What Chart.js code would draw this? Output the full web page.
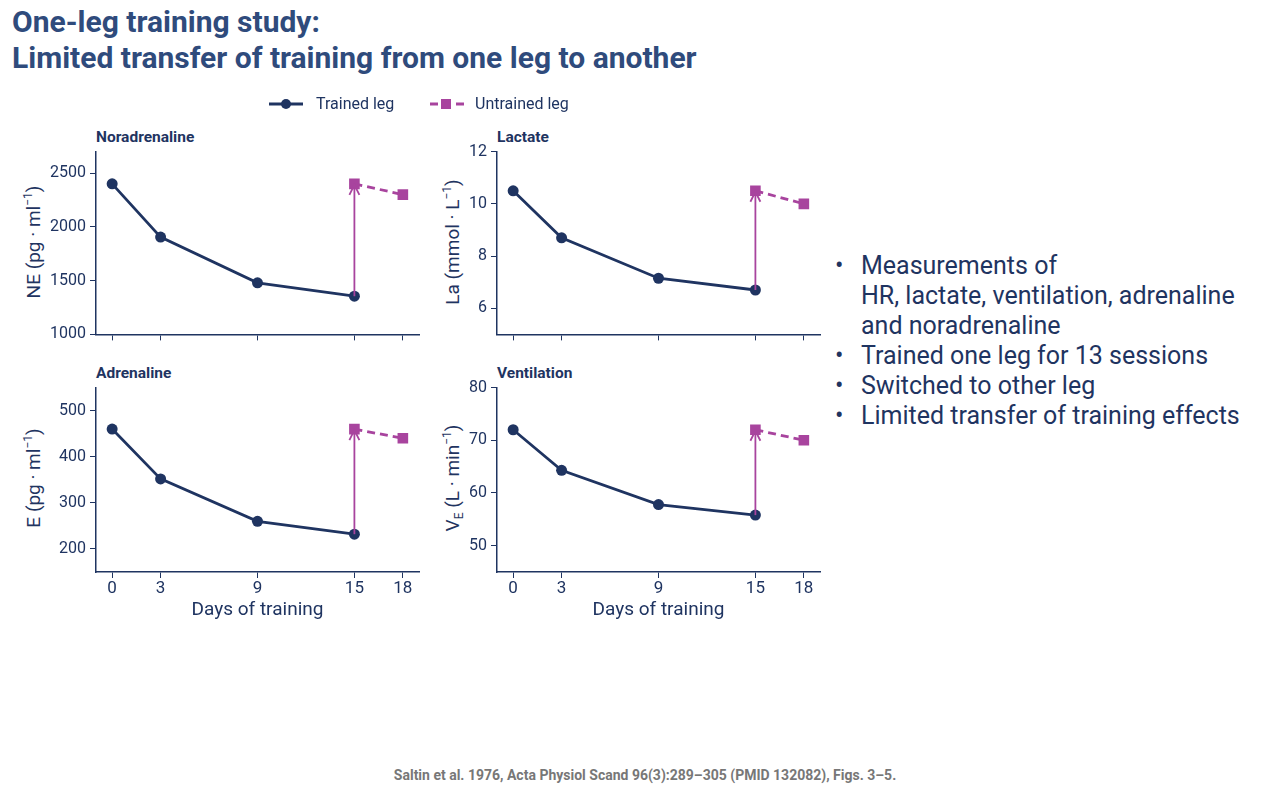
<!DOCTYPE html>
<html><head><meta charset="utf-8">
<script src="https://cdn.jsdelivr.net/npm/chart.js@4.4.1/dist/chart.umd.min.js"></script>
<style>
html,body{margin:0;padding:0;background:#fff;width:1280px;height:800px;overflow:hidden;font-family:Roboto,"Noto Sans",sans-serif;color:#1f3461;}
#title{position:absolute;left:12px;top:4px;font-size:30px;font-weight:700;line-height:36px;color:#2f4b7c;}
.ptitle{position:absolute;font-size:15.5px;font-weight:700;color:#1f3461;}
.ytitle{position:absolute;font-size:19px;white-space:nowrap;transform:translate(-50%,-50%) rotate(-90deg);color:#1f3461;}
.ytitle sup{font-size:12px;vertical-align:8px;line-height:0}
.ytitle sub{font-size:12px;vertical-align:-4px;line-height:0}
canvas{position:absolute;}
#bul{position:absolute;left:835px;top:251px;font-size:25px;line-height:30px;color:#1f3461;}
#bul div{position:relative;padding-left:26px;}
#bul div:before{content:"•";position:absolute;left:0;}
#foot{position:absolute;left:0;width:1290px;top:767px;text-align:center;font-size:14px;font-weight:700;color:#777;}
</style></head><body>
<div id="title">One-leg training study:<br>Limited transfer of training from one leg to another</div>
<canvas id="leg" width="340" height="22" style="left:262px;top:93px"></canvas>
<div class="ptitle" style="left:96px;top:128px">Noradrenaline</div>
<div class="ptitle" style="left:497px;top:128px">Lactate</div>
<div class="ptitle" style="left:96px;top:364px">Adrenaline</div>
<div class="ptitle" style="left:497px;top:364px">Ventilation</div>
<div class="ytitle" style="left:33px;top:242px">NE (pg · ml<sup>−1</sup>)</div>
<div class="ytitle" style="left:452px;top:242px">La (mmol · L<sup>−1</sup>)</div>
<div class="ytitle" style="left:33px;top:478px">E (pg · ml<sup>−1</sup>)</div>
<div class="ytitle" style="left:452px;top:478px">V<sub>E</sub> (L · min<sup>−1</sup>)</div>
<canvas id="c1" width="395" height="210" style="left:36px;top:138px"></canvas>
<canvas id="c2" width="395" height="210" style="left:437px;top:138px"></canvas>
<canvas id="c3" width="395" height="248" style="left:36px;top:374px"></canvas>
<canvas id="c4" width="395" height="248" style="left:437px;top:374px"></canvas>
<div id="bul">
<div>Measurements of<br>HR, lactate, ventilation, adrenaline<br>and noradrenaline</div>
<div>Trained one leg for 13 sessions</div>
<div>Switched to other leg</div>
<div>Limited transfer of training effects</div>
</div>
<div id="foot">Saltin et al. 1976, Acta Physiol Scand 96(3):289–305 (PMID 132082), Figs. 3–5.</div>
<script>
// ---- data ----
const trainedDays = [0, 3, 9, 15];
const untrainedDays = [15, 18];
const xTicks = [0, 3, 9, 15, 18];
const neTrained = [2400, 1905, 1480, 1355];
const neUntrained = [2400, 2300];
const neTicks = [1000, 1500, 2000, 2500];
const laTrained = [10.5, 8.7, 7.15, 6.7];
const laUntrained = [10.5, 10.0];
const laTicks = [6, 8, 10, 12];
const eTrained = [460, 352, 260, 232];
const eUntrained = [460, 440];
const eTicks = [200, 300, 400, 500];
const veTrained = [72, 64.3, 57.8, 55.8];
const veUntrained = [72, 70];
const veTicks = [50, 60, 70, 80];
const seriesNames = ['Trained leg', 'Untrained leg'];
const xTitle = 'Days of training';

const NAVY = '#1f3461', PURPLE = '#a8449e';
const FONT = 'Roboto, "Noto Sans", sans-serif';

// arrow plugin: from trained day-15 point to untrained day-15 point
const arrowPlugin = {
  id: 'arrow',
  afterDatasetsDraw(chart) {
    const a = chart.getDatasetMeta(0).data[3];
    const b = chart.getDatasetMeta(1).data[0];
    if (!a || !b) return;
    const ctx = chart.ctx;
    ctx.save();
    ctx.strokeStyle = PURPLE; ctx.lineWidth = 1.8;
    ctx.beginPath(); ctx.moveTo(a.x, a.y); ctx.lineTo(b.x, b.y); ctx.stroke();
    ctx.beginPath();
    ctx.moveTo(b.x - 5, b.y + 11); ctx.lineTo(b.x, b.y + 1); ctx.lineTo(b.x + 5, b.y + 11);
    ctx.stroke();
    ctx.restore();
  }
};

function make(id, tr, un, yTicks, ymin, ymax, bottom) {
  new Chart(document.getElementById(id), {
    type: 'line',
    data: {
      datasets: [
        { label: seriesNames[0], data: trainedDays.map((d, i) => ({x: d, y: tr[i]})),
          borderColor: NAVY, backgroundColor: NAVY, borderWidth: 2.8,
          pointRadius: 5.5, pointStyle: 'circle', pointBorderWidth: 0, order: 2 },
        { label: seriesNames[1], data: untrainedDays.map((d, i) => ({x: d, y: un[i]})),
          borderColor: PURPLE, backgroundColor: PURPLE, borderWidth: 2.8, borderDash: [8, 5],
          pointRadius: 7.5, pointStyle: 'rect', pointBorderWidth: 0, order: 1 }
      ]
    },
    options: {
      responsive: false, animation: false, events: [],
      layout: { padding: { top: 10, right: 12, left: 0, bottom: 0 } },
      plugins: { legend: { display: false }, tooltip: { enabled: false } },
      scales: {
        x: {
          type: 'linear', min: -1, max: 19,
          afterBuildTicks: s => { s.ticks = xTicks.map(v => ({value: v})); },
          afterFit: s => { s.height = bottom ? 50 : 12; },
          grid: { drawOnChartArea: false, drawTicks: true, tickLength: 6, color: NAVY, lineWidth: 1 },
          border: { display: true, color: NAVY, width: 1.5 },
          ticks: { display: bottom, color: NAVY, font: { family: FONT, size: 17 }, padding: 1, maxRotation: 0,
                   callback: v => String(v) },
          title: { display: bottom, text: xTitle, color: NAVY, font: { family: FONT, size: 19 }, padding: { top: 0, bottom: 0 } }
        },
        y: {
          min: ymin, max: ymax,
          afterBuildTicks: s => { s.ticks = yTicks.map(v => ({value: v})); },
          afterFit: s => { s.width = 60; },
          grid: { drawOnChartArea: false, drawTicks: true, tickLength: 6, color: NAVY, lineWidth: 1 },
          border: { display: true, color: NAVY, width: 1.5 },
          ticks: { color: NAVY, font: { family: FONT, size: 16 }, padding: 4, callback: v => String(v) }
        }
      }
    },
    plugins: [arrowPlugin]
  });
}
make('c1', neTrained, neUntrained, neTicks, 1000, 2700, false);
make('c2', laTrained, laUntrained, laTicks, 5, 12, false);
make('c3', eTrained, eUntrained, eTicks, 150, 550, true);
make('c4', veTrained, veUntrained, veTicks, 45, 80, true);

// legend
(function () {
  const c = document.getElementById('leg'), ctx = c.getContext('2d');
  ctx.font = '16px ' + FONT; ctx.textBaseline = 'middle';
  const y = 11;
  ctx.strokeStyle = NAVY; ctx.lineWidth = 2.8;
  ctx.beginPath(); ctx.moveTo(7, y); ctx.lineTo(41, y); ctx.stroke();
  ctx.fillStyle = NAVY; ctx.beginPath(); ctx.arc(24, y, 5, 0, Math.PI * 2); ctx.fill();
  ctx.fillText(seriesNames[0], 54, y + 1);
  ctx.strokeStyle = PURPLE; ctx.setLineDash([8, 5]);
  ctx.beginPath(); ctx.moveTo(168, y); ctx.lineTo(202, y); ctx.stroke();
  ctx.setLineDash([]);
  ctx.fillStyle = PURPLE; ctx.fillRect(179, y - 5, 10, 10);
  ctx.fillStyle = NAVY; ctx.fillText(seriesNames[1], 213, y + 1);
})();
</script>
</body></html>
